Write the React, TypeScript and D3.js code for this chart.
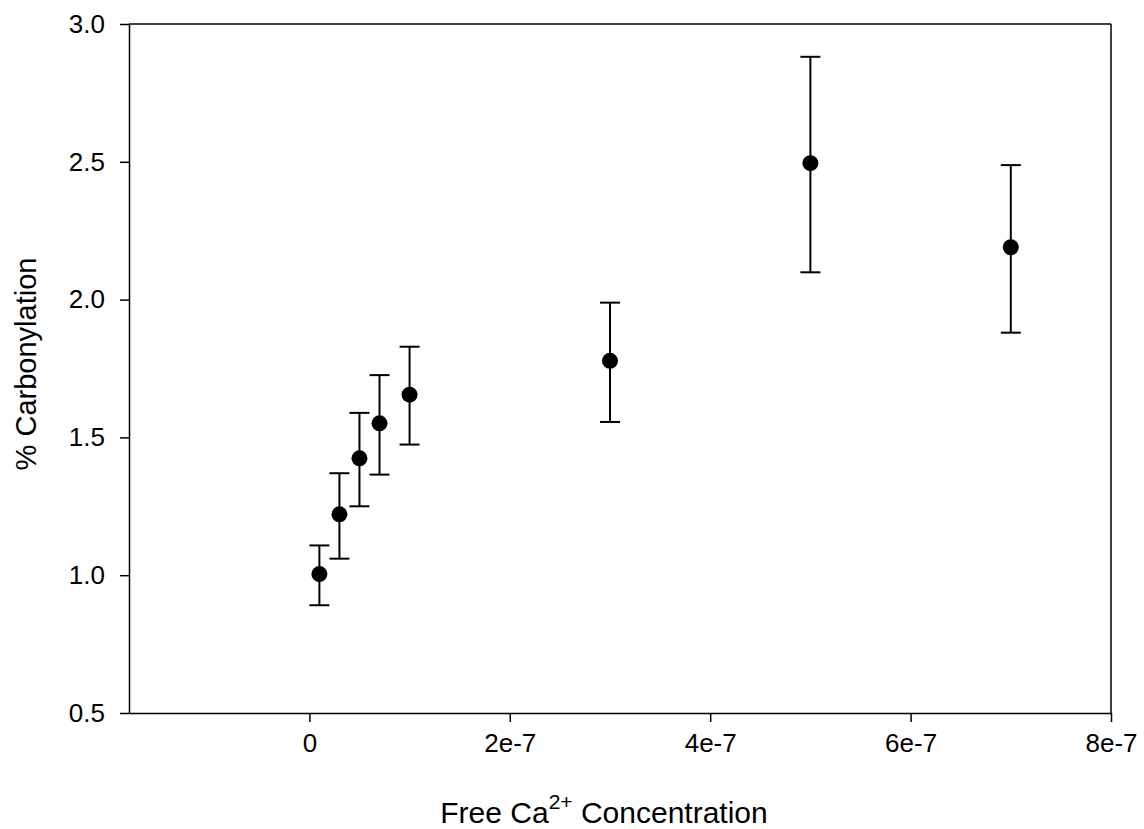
import React, { useEffect, useRef } from "react";
import * as d3 from "d3";

// free Ca2+ (M) and % carbonylation
const concentrations = [1e-8, 3e-8, 5e-8, 7e-8, 1e-7, 3e-7, 5e-7, 7e-7];
const carbonylation = [1.004, 1.221, 1.424, 1.551, 1.655, 1.778, 2.495, 2.19];
const errUpper = [1.108, 1.37, 1.589, 1.726, 1.829, 1.989, 2.881, 2.488];
const errLower = [0.891, 1.06, 1.25, 1.365, 1.474, 1.556, 2.099, 1.88];

const xTicks = [0, 2e-7, 4e-7, 6e-7, 8e-7];
const xTickLabels = ["0", "2e-7", "4e-7", "6e-7", "8e-7"];
const yTicks = [0.5, 1.0, 1.5, 2.0, 2.5, 3.0];

const width = 1144;
const height = 829;
const left = 129;
const right = 1111;
const top = 24;
const bottom = 713;
const font = "'Liberation Sans', Arial, sans-serif";

const App = () => {
  const xAxisRef = useRef<SVGGElement>(null);
  const yAxisRef = useRef<SVGGElement>(null);

  const x = d3.scaleLinear().domain([-1.8e-7, 8e-7]).range([left, right]);
  const y = d3.scaleLinear().domain([0.5, 3.0]).range([bottom, top]);

  useEffect(() => {
    const xAxis = d3
      .axisBottom(x)
      .tickValues(xTicks)
      .tickSize(9)
      .tickSizeOuter(0)
      .tickPadding(12)
      .tickFormat((d, i) => xTickLabels[i]);
    const gx = d3.select(xAxisRef.current!);
    gx.call(xAxis as any);
    gx.selectAll("path, line").attr("stroke", "#000").attr("stroke-width", 1.5);
    gx.selectAll("text")
      .attr("font-size", 26)
      .attr("font-family", font)
      .attr("fill", "#000");

    const yAxis = d3
      .axisLeft(y)
      .tickValues(yTicks)
      .tickSize(9)
      .tickSizeOuter(0)
      .tickPadding(15)
      .tickFormat(d3.format(".1f") as any);
    const gy = d3.select(yAxisRef.current!);
    gy.call(yAxis as any);
    gy.selectAll("path, line").attr("stroke", "#000").attr("stroke-width", 1.5);
    gy.selectAll("text")
      .attr("font-size", 26)
      .attr("font-family", font)
      .attr("fill", "#000");
  }, []);

  const bars = concentrations.map((c, i) => (
    <g key={i} stroke="#000" strokeWidth={2}>
      <line x1={x(c)} x2={x(c)} y1={y(errUpper[i])} y2={y(errLower[i])} />
      <line x1={x(c) - 10} x2={x(c) + 10} y1={y(errUpper[i])} y2={y(errUpper[i])} />
      <line x1={x(c) - 10} x2={x(c) + 10} y1={y(errLower[i])} y2={y(errLower[i])} />
    </g>
  ));

  const dots = concentrations.map((c, i) => (
    <circle key={i} cx={x(c)} cy={y(carbonylation[i])} r={8} fill="#000" />
  ));

  return (
    <svg
      width={width}
      height={height}
      viewBox={`0 0 ${width} ${height}`}
      style={{ position: "absolute", left: 0, top: 0, background: "#fff" }}
    >
      <rect width={width} height={height} fill="#fff" />
      {/* top + right frame */}
      <line x1={left} x2={right} y1={top} y2={top} stroke="#000" strokeWidth={1.5} />
      <line x1={right} x2={right} y1={top} y2={bottom} stroke="#000" strokeWidth={1.5} />
      <g ref={xAxisRef} transform={`translate(0,${bottom})`} />
      <g ref={yAxisRef} transform={`translate(${left},0)`} />
      {bars}
      {dots}
      <text
        x={604}
        y={823}
        textAnchor="middle"
        fontSize={30}
        fontFamily={font}
        fill="#000"
      >
        Free Ca
        <tspan fontSize={21} dy={-14}>2+</tspan>
        <tspan dy={14}> Concentration</tspan>
      </text>
      <text
        transform={`translate(36,364) rotate(-90)`}
        textAnchor="middle"
        fontSize={29}
        fontFamily={font}
        fill="#000"
      >
        % Carbonylation
      </text>
    </svg>
  );
};

export default App;
